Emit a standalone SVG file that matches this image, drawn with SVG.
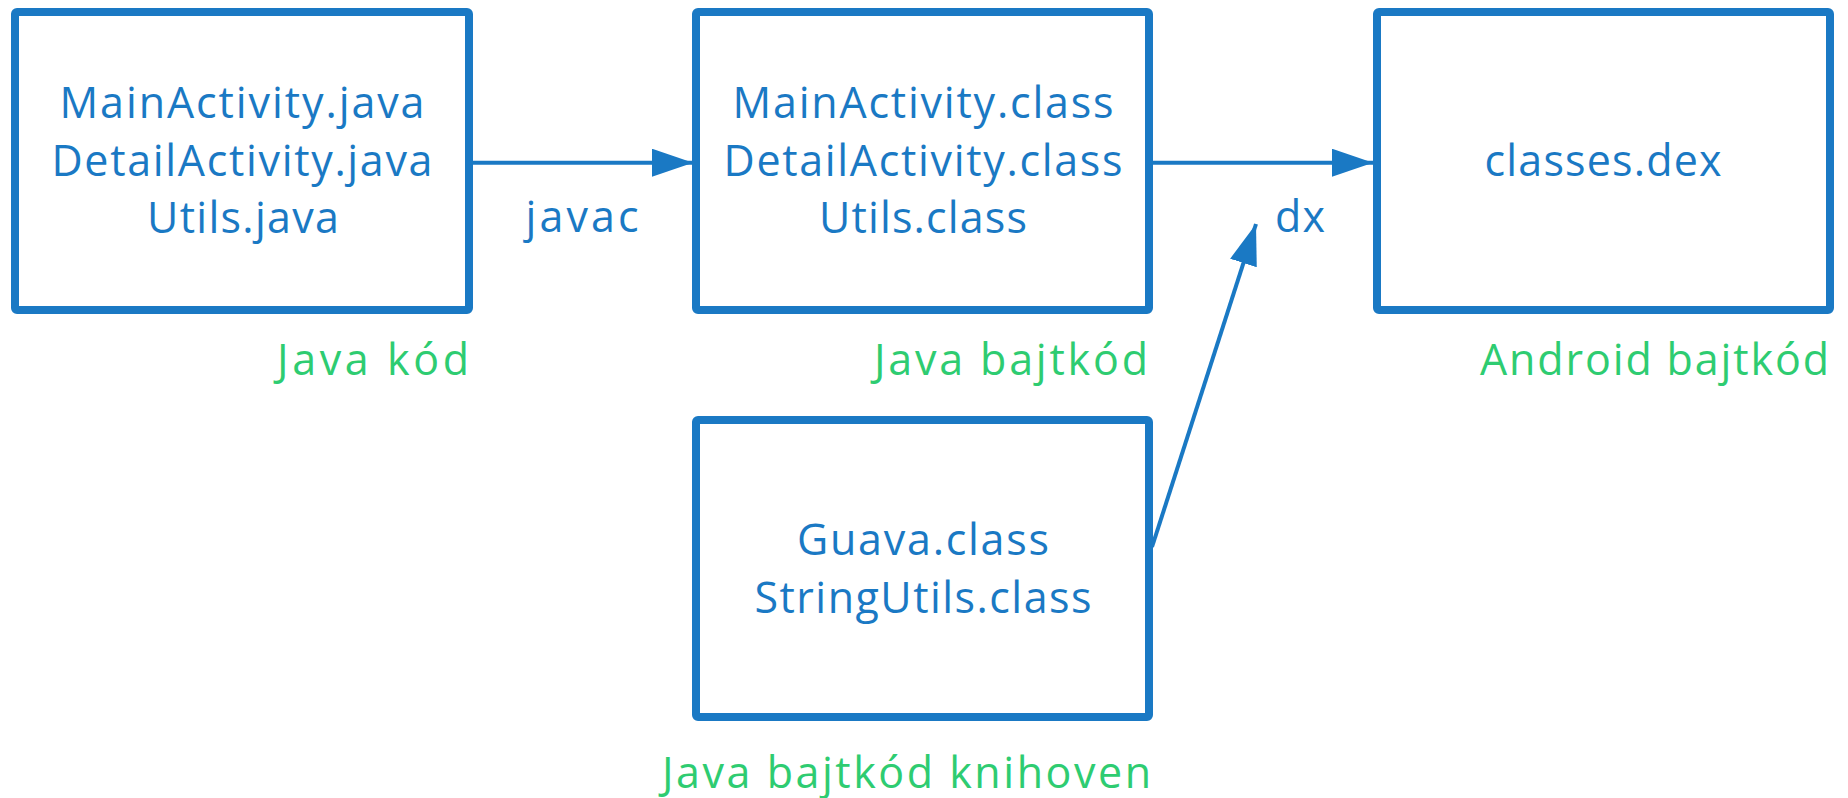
<svg xmlns="http://www.w3.org/2000/svg" width="1848" height="798" viewBox="0 0 1848 798">
  <defs>
    <style>
      .box { fill: #ffffff; stroke: #1a79c4; stroke-width: 8; stroke-linejoin: round; }
      .t { font-family: "Open Sans", Lato, "Liberation Sans", sans-serif; font-size: 43px; fill: #1a79c4; text-anchor: middle; }
      .g { font-family: "Open Sans", Lato, "Liberation Sans", sans-serif; font-size: 43px; fill: #2ecc71; text-anchor: end; }
      .edge { stroke: #1a79c4; stroke-width: 4; fill: none; }
    </style>
    <marker id="arrow" markerUnits="userSpaceOnUse" markerWidth="42" markerHeight="30" refX="41" refY="14" orient="auto">
      <path d="M0,0 L41,14 L0,28 Z" fill="#1a79c4"/>
    </marker>
  </defs>
  <rect width="1848" height="798" fill="#ffffff"/>

  <g id="node-java">
    <rect class="box" x="15" y="12" width="454" height="298" rx="2"/>
    <text class="t" x="242" y="118" textLength="365" lengthAdjust="spacing">MainActivity.java</text>
    <text class="t" x="242" y="176" textLength="381" lengthAdjust="spacing">DetailActivity.java</text>
    <text class="t" x="243" y="233" textLength="192" lengthAdjust="spacing">Utils.java</text>
    <text class="g" x="469" y="375" textLength="192" lengthAdjust="spacing">Java kód</text>
  </g>

  <g id="node-class">
    <rect class="box" x="696" y="12" width="453" height="298" rx="2"/>
    <text class="t" x="923" y="118" textLength="381" lengthAdjust="spacing">MainActivity.class</text>
    <text class="t" x="923" y="176" textLength="399" lengthAdjust="spacing">DetailActivity.class</text>
    <text class="t" x="923" y="233" textLength="208" lengthAdjust="spacing">Utils.class</text>
    <text class="g" x="1148" y="375" textLength="274" lengthAdjust="spacing">Java bajtkód</text>
  </g>

  <g id="node-dex">
    <rect class="box" x="1377" y="12" width="453" height="298" rx="2"/>
    <text class="t" x="1603" y="176" textLength="237" lengthAdjust="spacing">classes.dex</text>
    <text class="g" x="1829" y="375" textLength="349" lengthAdjust="spacing">Android bajtkód</text>
  </g>

  <g id="node-lib">
    <rect class="box" x="696" y="420" width="453" height="297" rx="2"/>
    <text class="t" x="923" y="555" textLength="252" lengthAdjust="spacing">Guava.class</text>
    <text class="t" x="923" y="613" textLength="337" lengthAdjust="spacing">StringUtils.class</text>
    <text class="g" x="1151" y="788" textLength="489" lengthAdjust="spacing">Java bajtkód knihoven</text>
  </g>

  <g id="connectors">
    <line class="edge" x1="469" y1="162.7" x2="693" y2="162.7" marker-end="url(#arrow)"/>
    <text class="t" x="582" y="232" textLength="113" lengthAdjust="spacing">javac</text>
    <line class="edge" x1="1149" y1="162.7" x2="1373" y2="162.7" marker-end="url(#arrow)"/>
    <text class="t" x="1300" y="232" textLength="50" lengthAdjust="spacing">dx</text>
    <line class="edge" x1="1152" y1="547" x2="1256" y2="224" marker-end="url(#arrow)"/>
  </g>
</svg>
